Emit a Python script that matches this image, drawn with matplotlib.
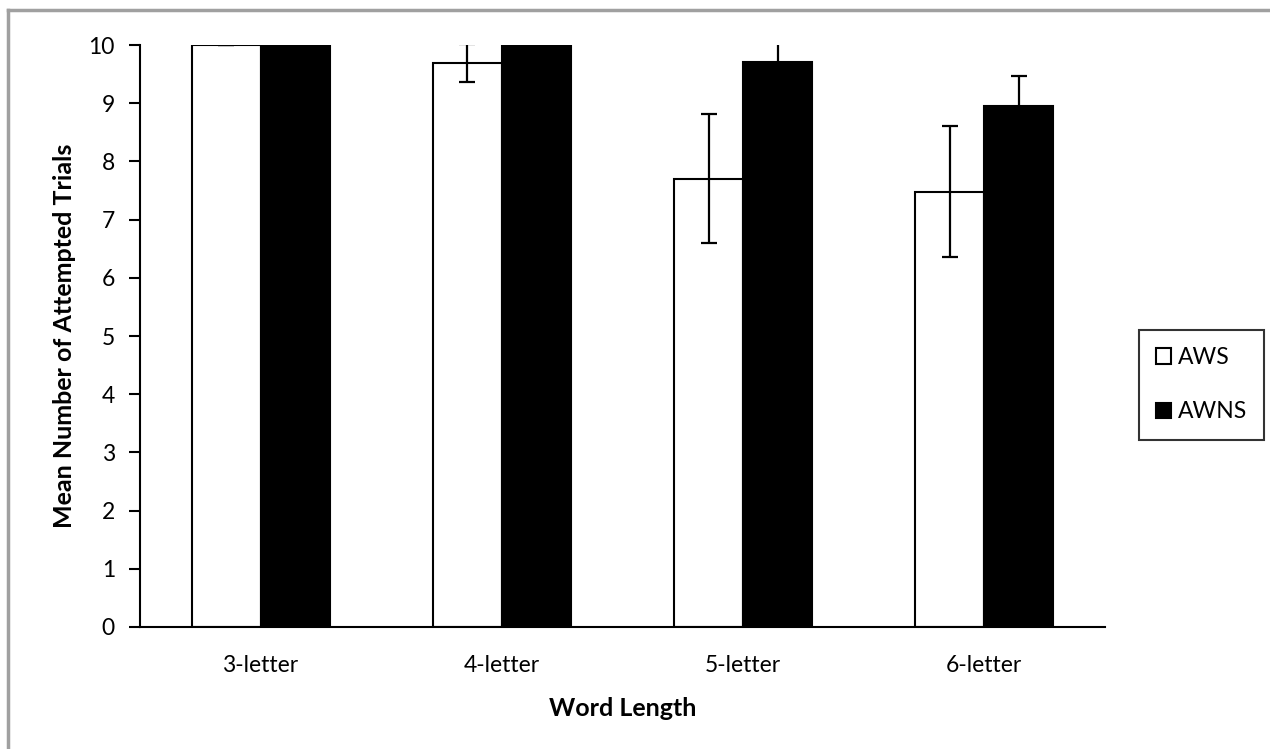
import matplotlib
matplotlib.use("Agg")
import matplotlib.pyplot as plt
import numpy as np
from matplotlib.patches import Patch
from matplotlib.lines import Line2D

categories = ["3-letter", "4-letter", "5-letter", "6-letter"]
aws_mean = [10.0, 9.69, 7.70, 7.48]
aws_err = [0.0, 0.33, 1.11, 1.13]
awns_mean = [10.0, 10.0, 9.70, 8.95]
awns_err = [0.0, 0.0, 0.35, 0.52]
yticks = list(range(0, 11))

plt.rcParams['font.family'] = ['Lato', 'DejaVu Sans']

fig = plt.figure(figsize=(12.7, 7.49), dpi=100)
ax = fig.add_axes([0.1102, 0.1629, 0.7598, 0.777])

x = np.arange(len(categories))
w = 0.286
ax.bar(x - w/2, aws_mean, w, color='white', edgecolor='black', linewidth=1.5, zorder=2)
ax.bar(x + w/2, awns_mean, w, color='black', edgecolor='black', linewidth=1.5, zorder=2)
ax.errorbar(x - w/2, aws_mean, yerr=aws_err, fmt='none', ecolor='black',
            elinewidth=1.6, capsize=5.5, capthick=1.6, zorder=3)
ax.errorbar(x + w/2, awns_mean, yerr=awns_err, fmt='none', ecolor='black',
            elinewidth=1.6, capsize=5.5, capthick=1.6, zorder=3)

ax.set_xlim(-0.5, len(categories) - 0.5)
ax.set_ylim(0, 10)
ax.set_yticks(yticks)
ax.set_yticklabels([str(t) for t in yticks])
ax.set_xticks(x)
ax.set_xticklabels(categories)
ax.tick_params(axis='x', length=0, labelsize=16.5, pad=20)
ax.tick_params(axis='y', length=8, width=1.5, direction='out', labelsize=16.5, pad=10)
for s in ['top', 'right']:
    ax.spines[s].set_visible(False)
for s in ['left', 'bottom']:
    ax.spines[s].set_linewidth(1.5)

ax.set_xlabel("Word Length", fontsize=18, fontweight='bold', labelpad=15)
ax.set_ylabel("Mean Number of Attempted Trials", fontsize=18, fontweight='bold', labelpad=9)

handles = [Patch(facecolor='white', edgecolor='black', linewidth=1.5),
           Patch(facecolor='black', edgecolor='black', linewidth=1.5)]
leg = fig.legend(handles, ["AWS", "AWNS"], loc='upper left',
                 bbox_to_anchor=(1139/1270, 1 - 330/749),
                 fontsize=16.5, frameon=True, fancybox=False, edgecolor='black',
                 handlelength=0.65, handleheight=0.65, handletextpad=0.3,
                 labelspacing=1.45, borderpad=0.75, borderaxespad=0)
leg.get_frame().set_linewidth(1.5)

# outer gray frame (left & top edges)
fig.add_artist(Line2D([8/1270, 8/1270], [0, 1 - 10/749], color='#a0a0a0', linewidth=2.5, transform=fig.transFigure))
fig.add_artist(Line2D([8/1270, 1], [1 - 10/749, 1 - 10/749], color='#a0a0a0', linewidth=2.5, transform=fig.transFigure))

fig.savefig("out.png", dpi=100)
